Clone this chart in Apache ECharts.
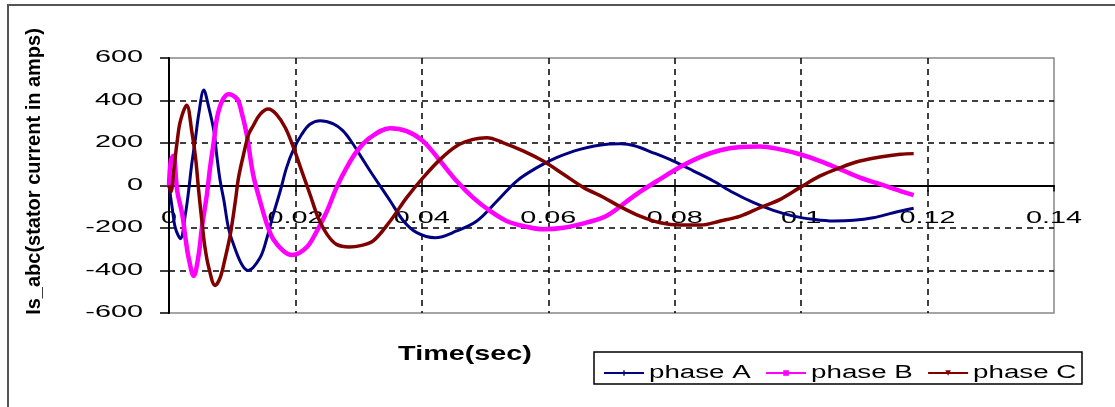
<!DOCTYPE html>
<html><head><meta charset="utf-8">
<script src="https://cdn.jsdelivr.net/npm/echarts@6/dist/echarts.min.js"></script>
<style>html,body{margin:0;padding:0;background:#fff}#c{width:1115px;height:407px}</style>
</head><body><div id="c"></div><script>
// ---- data ----
const seriesNames = ['phase A', 'phase B', 'phase C'];
const xTickLabels = ['0', '0.02', '0.04', '0.06', '0.08', '0.1', '0.12', '0.14'];
const yTickLabels = ['-600', '-400', '-200', '0', '200', '400', '600'];

const timeA = [0, 0.0005, 0.001, 0.0018, 0.0026, 0.0031, 0.0036, 0.0042, 0.0047, 0.0055, 0.0063, 0.0071, 0.0076, 0.0081, 0.0087, 0.0094, 0.0102, 0.0115, 0.0125, 0.0144, 0.0155, 0.0165, 0.0176, 0.0186, 0.0197, 0.021, 0.0223, 0.0239, 0.026, 0.0275, 0.029, 0.0305, 0.032, 0.035, 0.0371, 0.0392, 0.0421, 0.0455, 0.0487, 0.0519, 0.055, 0.0582, 0.0613, 0.065, 0.0693, 0.0715, 0.0735, 0.0766, 0.0798, 0.083, 0.0861, 0.0893, 0.0925, 0.0956, 0.0988, 0.1019, 0.1051, 0.1083, 0.1114, 0.1146, 0.1178];
const phaseA = [0, -104, -199, -250, -134, -26, 101, 225, 335, 450, 366, 256, 131, 21, -73, -199, -277, -371, -400, -340, -246, -136, -26, 84, 170, 241, 288, 305, 290, 258, 200, 130, 60, -73, -167, -222, -246, -214, -167, -73, 21, 84, 131, 170, 194, 196, 188, 154, 115, 68, 21, -34, -81, -117, -144, -159, -167, -164, -152, -128, -107];

const timeB = [0, 0.0003, 0.0007, 0.0013, 0.0021, 0.0026, 0.0031, 0.0039, 0.0047, 0.0052, 0.006, 0.0065, 0.0071, 0.0076, 0.0084, 0.0094, 0.0108, 0.0114, 0.0123, 0.0133, 0.0144, 0.0155, 0.0165, 0.0181, 0.0195, 0.0218, 0.0234, 0.025, 0.0265, 0.0281, 0.0297, 0.0318, 0.035, 0.0376, 0.0402, 0.0429, 0.0455, 0.0481, 0.0508, 0.0534, 0.0561, 0.0592, 0.0624, 0.0656, 0.0687, 0.0705, 0.0724, 0.0745, 0.0777, 0.0809, 0.0841, 0.0872, 0.0904, 0.0935, 0.0967, 0.0998, 0.103, 0.1062, 0.1093, 0.1125, 0.1157, 0.1178];
const phaseB = [0, 120, 140, -26, -136, -246, -340, -426, -324, -199, -41, 84, 209, 319, 398, 430, 406, 355, 240, 53, -73, -183, -253, -308, -327, -290, -214, -120, -10, 84, 160, 225, 270, 256, 209, 115, 21, -57, -120, -167, -191, -206, -199, -178, -150, -118, -75, -30, 30, 88, 135, 166, 181, 184, 170, 147, 115, 76, 37, 6, -26, -45];

const timeC = [0, 0.0003, 0.0008, 0.0013, 0.0018, 0.0028, 0.0036, 0.0042, 0.0047, 0.0052, 0.0057, 0.0063, 0.0073, 0.0081, 0.0089, 0.0097, 0.0105, 0.011, 0.0118, 0.0126, 0.0133, 0.0144, 0.0157, 0.017, 0.0184, 0.0197, 0.021, 0.0223, 0.0236, 0.025, 0.0265, 0.0285, 0.0303, 0.0323, 0.035, 0.0376, 0.0402, 0.0429, 0.0455, 0.0481, 0.0503, 0.0529, 0.0561, 0.0592, 0.0624, 0.0656, 0.0687, 0.0714, 0.0745, 0.0777, 0.0809, 0.0841, 0.0872, 0.0904, 0.0935, 0.0967, 0.0998, 0.103, 0.1062, 0.1093, 0.1125, 0.1157, 0.1178];
const phaseC = [0, -30, 84, 209, 303, 378, 256, 131, -26, -167, -293, -387, -470, -434, -340, -230, -73, 37, 147, 241, 280, 335, 360, 335, 272, 178, 68, -41, -152, -230, -277, -289, -283, -261, -167, -57, 37, 123, 186, 217, 225, 201, 162, 115, 53, -10, -55, -100, -144, -175, -186, -186, -167, -144, -104, -65, -10, 45, 84, 115, 134, 147, 150];

// ---- horizontal text stretch (reference glyphs are wide) ----
const STRETCH = { '16px': 1.8, '18px': 1.54, '21px': 1.37 };
const origFill = CanvasRenderingContext2D.prototype.fillText;
CanvasRenderingContext2D.prototype.fillText = function (text, x, y, maxW) {
  const m = /(\d+(?:\.\d+)?)px/.exec(this.font);
  const k = m && STRETCH[m[1] + 'px'];
  if (!k) return maxW === undefined ? origFill.call(this, text, x, y) : origFill.call(this, text, x, y, maxW);
  this.save();
  this.translate(x, y);
  this.scale(k, 1);
  origFill.call(this, text, 0, 0);
  this.restore();
};

const zip = (t, v) => t.map((tt, i) => [tt, v[i]]);
const FONT = 'Liberation Sans';

const chart = echarts.init(document.getElementById('c'), null, { renderer: 'canvas' });
const mkSeries = (name, t, v, color, width, symbol) => ({
  name, type: 'line', data: zip(t, v), smooth: 0.35, showSymbol: false,
  symbol, symbolSize: 5, color,
  lineStyle: { color, width }, itemStyle: { color },
  emphasis: { disabled: true }, animation: false
});

chart.setOption({
  animation: false,
  grid: { left: 169, right: 61, top: 58, bottom: 94, show: true, borderColor: '#888', borderWidth: 1.5, containLabel: false },
  xAxis: {
    type: 'value', min: 0, max: 0.14, interval: 0.02,
    axisLine: { onZero: true, lineStyle: { color: '#000', width: 2 } },
    axisTick: { show: true, length: 6, lineStyle: { color: '#000', width: 1.5 } },
    axisLabel: { interval: 0, margin: -102, color: '#000', fontFamily: FONT, fontSize: 16,
      formatter: v => xTickLabels[Math.round(v / 0.02)] },
    splitLine: { show: true, showMinLine: false, showMaxLine: false, lineStyle: { color: '#000', type: [6, 5], width: 1.5 } }
  },
  yAxis: {
    type: 'value', min: -600, max: 600, interval: 200,
    axisLine: { show: true, lineStyle: { color: '#000', width: 2 } },
    axisTick: { show: true, length: 9, lineStyle: { color: '#000', width: 1.5 } },
    axisLabel: { margin: 26, color: '#000', fontFamily: FONT, fontSize: 16,
      formatter: v => yTickLabels[Math.round((v + 600) / 200)] },
    splitLine: { show: true, showMinLine: false, showMaxLine: false, lineStyle: { color: '#000', type: [6, 5], width: 1.5 } }
  },
  legend: {
    data: seriesNames, left: 603, top: 364, padding: 0, orient: 'horizontal',
    itemWidth: 40, itemHeight: 7, itemGap: 50,
    textStyle: { color: '#000', fontFamily: FONT, fontSize: 18 },
    lineStyle: { width: 2 }
  },
  series: [
    mkSeries(seriesNames[0], timeA, phaseA, '#000080', 3, 'path://M3,0H5V3H8V5H5V8H3V5H0V3H3Z'),
    mkSeries(seriesNames[1], timeB, phaseB, '#FF00FF', 4.5, 'rect'),
    mkSeries(seriesNames[2], timeC, phaseC, '#800000', 3.5, 'path://M0,0H8L4,5Z')
  ],
  graphic: [
    { type: 'rect', silent: true, shape: { x: 8, y: 5, width: 1200, height: 500 },
      style: { fill: 'none', stroke: '#555', lineWidth: 2 } },
    { type: 'rect', silent: true, shape: { x: 594, y: 352, width: 488, height: 32 },
      style: { fill: 'none', stroke: '#000', lineWidth: 1.5 } },
    { type: 'text', silent: true, x: 34, y: 171.5, rotation: Math.PI / 2,
      style: { text: 'Is_abc(stator current in amps)', x: 0, y: 0, fill: '#000',
        font: 'bold 20px "Liberation Sans"', textAlign: 'center', textVerticalAlign: 'middle' } },
    { type: 'text', silent: true, x: 465, y: 354,
      style: { text: 'Time(sec)', x: 0, y: 0, fill: '#000',
        font: 'bold 21px "Liberation Sans"', textAlign: 'center', textVerticalAlign: 'middle' } }
  ]
});
</script></body></html>
